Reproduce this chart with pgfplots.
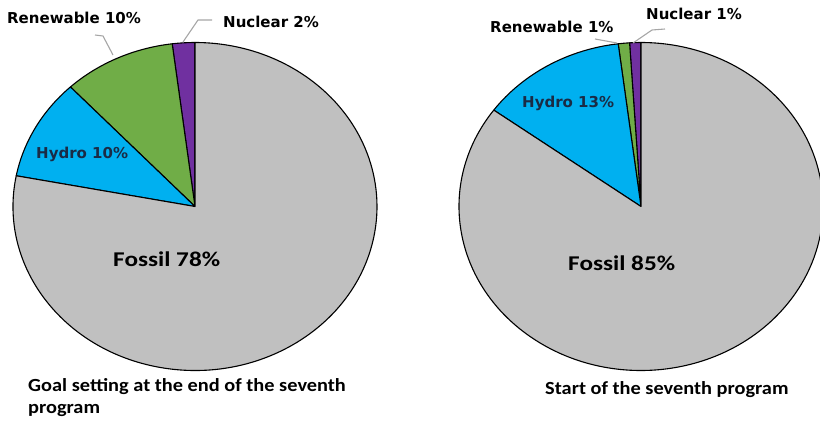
\documentclass[border=0pt]{standalone}
\usepackage{fontspec}
\setmainfont{Carlito}
\newfontfamily\labfont{DejaVu Sans}
\usepackage{pgfplots}
\usepackage{pgfplotstable}
\pgfplotsset{compat=1.18}

\definecolor{Nuclear}{HTML}{7030A0}
\definecolor{Renewable}{HTML}{70AD47}
\definecolor{Hydro}{HTML}{00B0F0}
\definecolor{Fossil}{HTML}{C0C0C0}
\definecolor{leader}{HTML}{A6A6A6}
\definecolor{navy}{HTML}{1A2B45}

% Goal at the end of the seventh program
\pgfplotstableread{
name value
Nuclear 2
Renewable 10
Hydro 10
Fossil 78
}\goaltable
% Start of the seventh program
\pgfplotstableread{
name value
Nuclear 1
Renewable 1
Hydro 13
Fossil 85
}\starttable

\newcommand\preppie[2]{%
  \xdef\cum{90}%
  \foreach \r in {0,1,2,3}{%
    \pgfplotstablegetelem{\r}{value}\of#1%
    \pgfmathsetmacro\en{\cum+3.6*\pgfplotsretval}%
    \expandafter\xdef\csname #2s\r\endcsname{\cum}%
    \expandafter\xdef\csname #2e\r\endcsname{\en}%
    \pgfplotstablegetelem{\r}{name}\of#1%
    \expandafter\xdef\csname #2c\r\endcsname{\pgfplotsretval}%
    \xdef\cum{\en}%
  }}
\preppie{\goaltable}{G}
\preppie{\starttable}{S}

\newcommand\slice[4]{% prefix, row, cx, cy
  \edef\doslice{\noexpand\fill[fill=\csname #1c#2\endcsname, draw=black,
    line width=1.1pt, line join=round]
    (axis cs:#3,#4) -- ++(\csname #1s#2\endcsname:182pt and 164pt)
    arc[start angle=\csname #1s#2\endcsname, end angle=\csname #1e#2\endcsname,
        x radius=182pt, y radius=164pt] -- cycle;}%
  \doslice
}

\begin{document}
\begin{tikzpicture}
\begin{axis}[
  name=ax,
  x=1pt, y=1pt,
  xmin=0, xmax=820, ymin=0, ymax=421,
  hide axis,
  clip=true,
]
\pgfplotsinvokeforeach{0,1,2,3}{\slice{G}{#1}{195}{214.5}}
\pgfplotsinvokeforeach{0,1,2,3}{\slice{S}{#1}{641}{214.5}}

% leader lines
\draw[leader, line width=1.1pt] (axis cs:95,386) -- (axis cs:103,385) -- (axis cs:113,366);
\draw[leader, line width=1.1pt] (axis cs:212,401) -- (axis cs:198,401) -- (axis cs:183,379);
\draw[leader, line width=1.1pt] (axis cs:595,382) -- (axis cs:617,378);
\draw[leader, line width=1.1pt] (axis cs:665,392) -- (axis cs:652,391) -- (axis cs:633,378);

\tikzset{labt/.style={anchor=west, inner sep=0pt, font=\labfont\fontsize{15}{17}\selectfont\bfseries},
         bigt/.style={anchor=west, inner sep=0pt, font=\fontsize{21}{23}\selectfont\bfseries, xscale=1.2},
         capt/.style={anchor=west, inner sep=0pt, font=\fontsize{18.5}{20}\selectfont\bfseries, xscale=1.1}}
\node[labt] at (axis cs:7,403) {Renewable 10\%};
\node[labt] at (axis cs:223,399) {Nuclear 2\%};
\node[labt, text=navy] at (axis cs:36,267) {Hydro 10\%};
\node[bigt] at (axis cs:113,162) {Fossil 78\%};
\node[capt] at (axis cs:28,34) {Goal setting at the end of the seventh};
\node[capt] at (axis cs:28,11) {program};

\node[labt] at (axis cs:490,394) {Renewable 1\%};
\node[labt] at (axis cs:646,407) {Nuclear 1\%};
\node[labt, text=navy] at (axis cs:522,318) {Hydro 13\%};
\node[bigt] at (axis cs:568,158) {Fossil 85\%};
\node[capt] at (axis cs:545,31) {Start of the seventh program};
\end{axis}
\pgfresetboundingbox
\path (ax.south west) rectangle (ax.north east);
\end{tikzpicture}
\end{document}
